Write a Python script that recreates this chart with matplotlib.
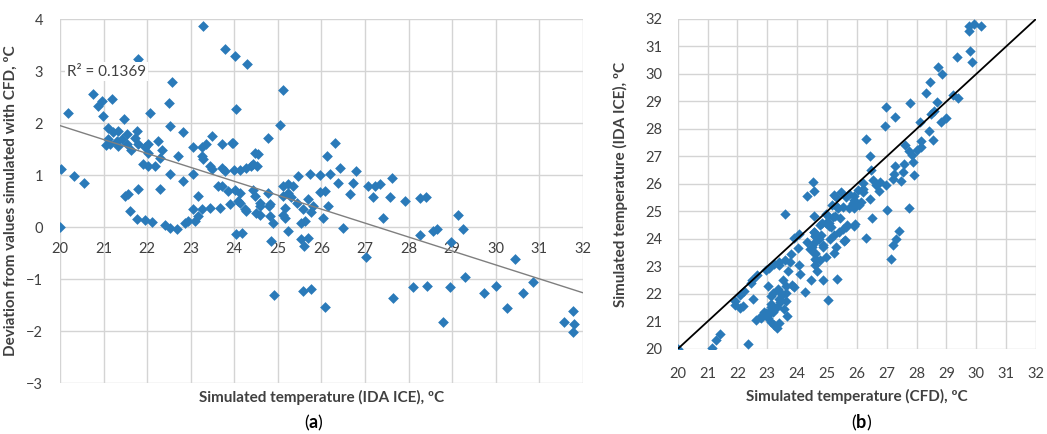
import matplotlib
matplotlib.use('Agg')
import matplotlib.pyplot as plt
import numpy as np

# IDA ICE temperatures (ºC) and the CFD deviation at each point (ºC)
ida_temp = [
    20.00, 20.03, 20.18, 20.31, 20.56, 20.76, 20.88, 20.96, 20.98,
    21.19, 21.47, 21.78, 21.11, 21.22, 21.34, 21.53, 21.72, 21.76, 21.11,
    21.30, 21.42, 21.15, 21.53, 21.80, 21.64, 21.95, 21.34, 21.05, 21.91,
    21.49, 21.57, 21.80, 21.61, 21.76, 21.95,
    22.06, 22.03, 22.03, 22.03, 22.18, 22.25, 22.33, 22.29, 22.29, 22.50,
    22.56, 22.52, 22.83, 22.71, 22.52, 22.83, 22.12, 22.41, 22.52, 22.68,
    22.86, 22.94,
    23.06, 23.25, 23.36, 23.48, 23.25, 23.29, 23.71, 23.94, 23.44, 23.48,
    23.71, 23.78, 23.06, 23.63, 23.71, 23.86, 23.90, 23.67, 23.44, 23.17,
    23.06, 23.25, 23.17, 23.10, 23.29, 23.78, 23.97,
    24.01, 24.29, 24.05, 24.78, 24.47, 24.55, 24.43, 24.51, 24.00, 24.13,
    24.26, 24.38, 24.01, 24.13, 24.09, 24.24, 24.43, 24.47, 24.59, 24.59,
    24.78, 24.82, 24.89, 24.05, 24.17, 24.12, 24.27, 24.50, 24.58, 24.80,
    24.82, 24.85, 24.90,
    25.05, 25.11, 25.12, 25.24, 25.35, 25.47, 25.73, 25.96, 25.12, 25.24,
    25.31, 25.43, 25.16, 25.12, 25.58, 25.69, 25.81, 25.77, 25.62, 25.54,
    25.24, 25.17, 25.53, 25.59, 25.69, 25.57, 25.76, 25.97,
    26.08, 26.15, 26.04, 26.50, 26.12, 26.31, 26.19, 26.42, 26.80, 26.38,
    26.73, 26.65, 26.07,
    27.07, 27.22, 27.34, 27.61, 27.91, 27.19, 27.57, 27.42, 27.02, 27.65,
    28.27, 28.39, 28.27, 28.56, 28.64, 29.14, 29.25, 28.98, 29.30, 30.45,
    30.85, 28.10, 28.43, 28.94, 29.72, 30.00, 30.26, 30.63, 28.79, 31.57,
    31.76, 31.80, 31.76,
]
deviation = [
    0.00, 1.11, 2.19, 0.98, 0.84, 2.55, 2.33, 2.42, 2.13,
    2.46, 2.08, 3.24, 1.91, 1.82, 1.85, 1.78, 1.72, 1.85, 1.69,
    1.65, 1.69, 1.59, 1.59, 1.59, 1.49, 1.53, 1.55, 1.58, 1.21,
    0.60, 0.63, 0.73, 0.30, 0.16, 0.14,
    2.20, 1.59, 1.43, 1.17, 1.17, 1.65, 1.49, 1.33, 0.74, 2.38,
    2.79, 1.94, 1.82, 1.37, 1.01, 0.88, 0.10, 0.03, -0.02, -0.04,
    0.08, 0.12,
    1.53, 1.53, 1.59, 1.75, 1.37, 1.30, 1.59, 1.62, 1.17, 1.11,
    1.14, 1.08, 1.01, 0.79, 0.79, 0.69, 0.44, 0.37, 0.37, 0.60,
    0.34, 0.34, 0.21, 0.12, 3.87, 3.43, 1.62,
    3.29, 3.13, 2.26, 1.72, 1.43, 1.40, 1.21, 1.17, 1.10, 1.10,
    1.13, 1.17, 0.72, 0.66, 0.50, 0.34, 0.72, 0.60, 0.47, 0.24,
    0.66, 0.44, 0.08, -0.14, -0.11, 0.47, 0.31, 0.27, 0.40, 0.40,
    0.21, -0.27, -1.30,
    1.97, 2.63, 0.79, 0.82, 0.79, 0.98, 1.01, 1.00, 0.60, 0.66,
    0.57, 0.47, 0.37, 0.24, 0.34, 0.53, 0.40, 0.28, 0.12, 0.08,
    -0.08, 0.18, -0.24, -0.37, -0.22, -1.23, -1.20, 0.67,
    0.69, 0.40, 0.18, -0.01, 1.37, 1.62, 1.01, 1.14, 1.08, 0.85,
    0.85, 0.63, -1.54,
    0.79, 0.79, 0.82, 0.95, 0.50, 0.57, 0.57, 0.18, -0.57, -1.36,
    0.55, 0.58, -0.16, -0.08, -0.04, 0.24, -0.03, -0.29, -0.97, -0.61,
    -1.06, -1.16, -1.14, -1.16, -1.27, -1.14, -1.55, -1.27, -1.82, -1.82,
    -1.61, -1.87, -2.01,
]
r2_text = 'R² = 0.1369'

ida = np.array(ida_temp)
dev = np.array(deviation)
cfd = ida + dev  # deviation is CFD minus IDA ICE

plt.rcParams['font.family'] = ['Lato', 'DejaVu Sans']
plt.rcParams['mathtext.fontset'] = 'custom'
plt.rcParams['mathtext.rm'] = 'Lato'
plt.rcParams['mathtext.bf'] = 'Lato:bold'

blue = '#2a7ab9'
grid_c = '#d4d4d4'
text_c = '#404040'

fig = plt.figure(figsize=(10.47, 4.34), dpi=100)
ax1 = fig.add_axes([0.0573, 0.1175, 0.4995, 0.8387])
ax2 = fig.add_axes([0.6473, 0.1959, 0.3422, 0.7604])

# (a) deviation vs IDA ICE temperature
ax1.scatter(ida, dev, marker='D', s=30, color=blue, linewidths=0, zorder=3)
k, b = np.polyfit(ida, dev, 1)
xs = np.array([20, 32])
ax1.plot(xs, k * xs + b, color='#7f7f7f', lw=1, zorder=4)
ax1.set_xlim(20, 32)
ax1.set_ylim(-3, 4)
ax1.set_xticks(range(20, 33))
ax1.set_yticks(range(-3, 5))
ax1.spines['bottom'].set_position(('data', 0))
ax1.tick_params(axis='x', length=0, pad=11, labelsize=10.5, colors=text_c)
ax1.tick_params(axis='y', length=0, pad=12, labelsize=10.5, colors=text_c)
ax1.text(20.16, 2.99, r2_text, fontsize=11, color=text_c, va='center',
         bbox=dict(facecolor='white', edgecolor='none', pad=1.5), zorder=5)
ax1.set_xlabel('Simulated temperature (IDA ICE), ºC', fontsize=11,
               fontweight='bold', color=text_c)
ax1.set_ylabel('Deviation from values simulated with CFD, ºC', fontsize=11,
               fontweight='bold', color=text_c)
ax1.xaxis.set_label_coords(0.5, -0.020)
ax1.yaxis.set_label_coords(-0.080, 0.5)

# (b) IDA ICE vs CFD with the 1:1 line
ax2.scatter(cfd, ida, marker='D', s=28, color=blue, linewidths=0, zorder=3)
ax2.axline((20, 20), slope=1, color='black', lw=1.3, zorder=4)
ax2.set_xlim(20, 32)
ax2.set_ylim(20, 32)
ax2.set_xticks(range(20, 33))
ax2.set_yticks(range(20, 33))
ax2.tick_params(axis='x', length=0, pad=13, labelsize=10.5, colors=text_c)
ax2.tick_params(axis='y', length=0, pad=11, labelsize=10.5, colors=text_c)
ax2.set_xlabel('Simulated temperature (CFD), ºC', fontsize=11,
               fontweight='bold', color=text_c)
ax2.set_ylabel('Simulated temperature (IDA ICE), ºC', fontsize=11,
               fontweight='bold', color=text_c)
ax2.xaxis.set_label_coords(0.5, -0.122)
ax2.yaxis.set_label_coords(-0.139, 0.5)

for ax in (ax1, ax2):
    ax.grid(True, color=grid_c, lw=1)
    ax.set_axisbelow(True)
    for sp in ax.spines.values():
        sp.set_visible(False)
    ax.xaxis.label.set_va('top')

fig.text(314 / 1047, 1 - 423 / 434, r'($\mathbf{a}$)', fontsize=13,
         ha='center', va='center', color='black')
fig.text(862 / 1047, 1 - 423 / 434, r'($\mathbf{b}$)', fontsize=13,
         ha='center', va='center', color='black')

fig.savefig('out.png', dpi=100)
